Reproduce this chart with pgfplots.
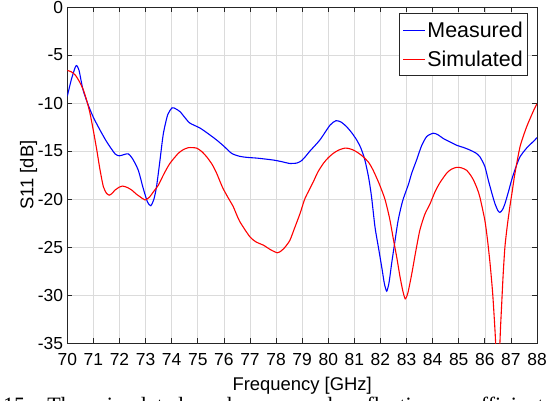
\documentclass[border=0pt]{standalone}
\usepackage{fontspec}
\setmainfont{Liberation Sans}
\newfontfamily\capfont{Liberation Serif}
\usepackage{pgfplots}
\pgfplotsset{compat=1.18}

% S11 of the antenna: measured vs. simulated (dB over GHz)
\pgfplotstableread{
f     s
70.00 -9.3
70.15 -7.6
70.30 -6.3
70.36 -6.1
70.45 -6.6
70.60 -8.6
70.80 -10.2
71.00 -11.5
71.25 -12.8
71.50 -14.0
71.83 -15.3
72.00 -15.5
72.20 -15.35
72.34 -15.3
72.50 -15.8
72.72 -17.0
72.90 -18.8
73.07 -20.3
73.20 -20.7
73.32 -20.0
73.42 -18.7
73.55 -16.0
73.68 -13.2
73.85 -11.2
74.02 -10.5
74.15 -10.6
74.32 -10.9
74.50 -11.5
74.70 -12.1
75.08 -12.6
75.40 -13.2
75.72 -13.85
76.00 -14.5
76.30 -15.25
76.60 -15.55
76.87 -15.66
77.30 -15.75
77.89 -15.94
78.20 -16.1
78.53 -16.3
78.80 -16.25
78.98 -16.0
79.15 -15.5
79.30 -15.0
79.68 -13.85
80.07 -12.3
80.30 -11.84
80.50 -12.0
80.70 -12.46
80.90 -13.1
81.09 -13.85
81.25 -14.7
81.40 -15.9
81.55 -17.8
81.66 -19.8
81.79 -22.9
81.92 -25.0
82.05 -27.1
82.15 -28.8
82.24 -29.6
82.33 -28.7
82.43 -26.7
82.55 -24.5
82.68 -22.2
82.85 -20.2
83.07 -18.5
83.20 -17.3
83.39 -15.9
83.57 -14.5
83.77 -13.5
84.02 -13.15
84.20 -13.3
84.41 -13.7
84.70 -14.1
84.92 -14.4
85.20 -14.65
85.43 -14.9
85.65 -15.2
85.81 -15.6
86.00 -16.6
86.13 -18.0
86.26 -19.3
86.39 -20.5
86.50 -21.2
86.58 -21.4
86.68 -21.1
86.77 -20.5
86.90 -19.3
87.03 -18.0
87.20 -16.6
87.35 -15.6
87.60 -14.7
87.90 -13.9
88.00 -13.6
}\measured

\pgfplotstableread{
f     s
70.00 -6.6
70.15 -6.75
70.30 -7.07
70.45 -7.7
70.61 -8.6
70.75 -9.8
70.87 -11.07
71.00 -12.9
71.13 -14.9
71.25 -16.9
71.38 -18.7
71.50 -19.4
71.61 -19.6
71.72 -19.4
71.83 -19.07
72.00 -18.75
72.12 -18.65
72.30 -18.8
72.47 -19.07
72.65 -19.5
72.79 -19.77
72.98 -20.1
73.15 -19.8
73.30 -19.25
73.49 -18.55
73.70 -17.4
73.93 -16.3
74.25 -15.25
74.45 -14.85
74.64 -14.65
74.80 -14.65
74.96 -14.7
75.15 -15.05
75.34 -15.6
75.55 -16.4
75.72 -17.3
75.95 -18.8
76.17 -19.9
76.36 -20.8
76.60 -22.3
77.00 -23.95
77.25 -24.5
77.51 -24.8
77.80 -25.3
78.05 -25.6
78.20 -25.4
78.35 -25.0
78.53 -24.3
78.70 -23.1
78.92 -21.5
79.10 -20.0
79.30 -18.9
79.43 -18.2
79.60 -17.2
79.81 -16.3
80.00 -15.7
80.19 -15.25
80.40 -14.9
80.64 -14.7
80.80 -14.75
80.96 -14.9
81.15 -15.2
81.34 -15.6
81.55 -16.2
81.72 -17.0
81.95 -18.4
82.17 -20.0
82.35 -22.0
82.49 -24.1
82.62 -26.0
82.75 -28.1
82.86 -29.6
82.95 -30.4
83.05 -29.8
83.20 -27.8
83.35 -25.5
83.51 -23.25
83.70 -21.6
83.90 -20.5
84.10 -19.2
84.28 -18.3
84.54 -17.3
84.72 -16.9
84.92 -16.7
85.10 -16.75
85.30 -17.0
85.45 -17.5
85.56 -18.0
85.69 -18.8
85.81 -19.8
86.00 -22.2
86.10 -24.2
86.20 -26.7
86.30 -29.8
86.39 -33.7
86.45 -37.0
86.50 -40.0
86.55 -37.0
86.60 -33.5
86.64 -31.3
86.70 -28.0
86.77 -25.0
86.86 -22.8
86.96 -20.8
87.05 -19.2
87.15 -17.4
87.35 -14.55
87.60 -12.5
87.90 -10.6
88.00 -10.1
}\simulated

\definecolor{axgray}{gray}{0.15}
\definecolor{gridgray}{gray}{0.86}

\begin{document}
\begin{tikzpicture}[x=1bp,y=1bp]
\useasboundingbox (0,0) rectangle (557,400);
\begin{axis}[
  at={(67.3bp,57bp)}, anchor=south west,
  width=469.7bp, height=336bp, scale only axis,
  xmin=70, xmax=88, ymin=-35, ymax=0,
  xtick={70,71,...,88},
  xticklabels={70,71,72,73,74,75,76,77,78,79,80,81,82,83,84,85,86,87,88},
  ytick={-35,-30,...,0},
  yticklabels={-35,-30,-25,-20,-15,-10,-5,0},
  tick align=inside,
  major tick length=5bp,
  tick style={axgray, line width=0.7bp},
  axis line style={axgray, line width=0.9bp},
  grid=major,
  major grid style={gridgray, line width=0.6bp},
  xticklabel style={font=\fontsize{17.5}{17.5}\selectfont, anchor=north, inner sep=0pt, yshift=-10bp},
  yticklabel style={font=\fontsize{17.5}{17.5}\selectfont, anchor=east, inner sep=0pt, xshift=-4bp},
  xlabel={Frequency [GHz]},
  ylabel={S11 [dB]},
  xlabel style={font=\fontsize{18.5}{18.5}\selectfont, at={(axis description cs:0.5,-0.1399)}, anchor=base, inner sep=0pt},
  ylabel style={font=\fontsize{18.5}{18.5}\selectfont, at={(axis description cs:-0.0723,0.5)}, anchor=base, inner sep=0pt},
  legend style={at={(axis description cs:0.981,0.981)}, anchor=north east,
    draw=axgray, line width=0.8bp, fill=white,
    font=\fontsize{21.5}{21.5}\selectfont,
    inner xsep=3.5bp, inner ysep=2bp, row sep=0bp,
    nodes={inner xsep=1.5bp, inner ysep=6bp}},
  legend cell align=left,
  legend image code/.code={\draw[#1, line width=1.1bp] (0bp,0bp) -- (22bp,0bp);},
]
\addplot[blue, line width=1.1bp, smooth, tension=0.4] table[x=f, y=s] {\measured};
\addlegendentry{Measured}
\addplot[red, line width=1.1bp, smooth, tension=0.4] table[x=f, y=s] {\simulated};
\addlegendentry{Simulated}
\end{axis}
\node[overlay, anchor=base west, inner sep=0pt, font=\capfont\fontsize{22}{22}\selectfont] at (3,-12.5)
  {\frenchspacing\makebox[549bp][s]{15. The simulated and measured reflection coefficients}};
\end{tikzpicture}
\end{document}
